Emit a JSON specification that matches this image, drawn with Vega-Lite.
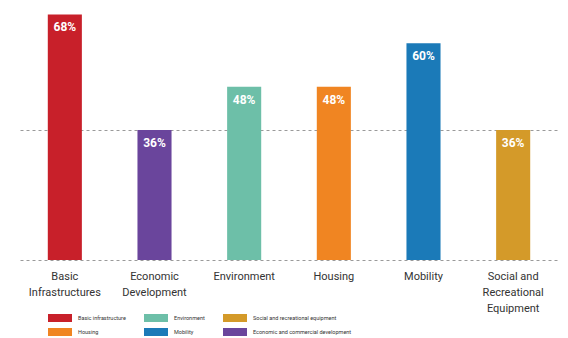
{
  "$schema": "https://vega.github.io/schema/vega-lite/v6.json",
  "width": 538,
  "height": 260,
  "autosize": {"type": "none"},
  "padding": {"left": 20, "top": 0, "right": 10, "bottom": 78},
  "background": "white",
  "config": {"view": {"stroke": null}, "font": "Roboto"},
  "data": {
    "values": [
      {"cat": "Basic|Infrastructures", "value": 68, "label": "68%", "legend": "Basic infrastructure"},
      {"cat": "Economic|Development", "value": 36, "label": "36%", "legend": "Economic and commercial development"},
      {"cat": "Environment", "value": 48, "label": "48%", "legend": "Environment"},
      {"cat": "Housing", "value": 48, "label": "48%", "legend": "Housing"},
      {"cat": "Mobility", "value": 60, "label": "60%", "legend": "Mobility"},
      {"cat": "Social and|Recreational|Equipment", "value": 36, "label": "36%", "legend": "Social and recreational equipment"}
    ]
  },
  "encoding": {
    "x": {
      "field": "cat", "type": "nominal", "sort": null, "title": null,
      "scale": {"paddingInner": 0.62, "paddingOuter": 0.31},
      "axis": {
        "domain": false, "ticks": false, "labelAngle": 0,
        "labelExpr": "split(datum.value, '|')",
        "labelFontSize": 11, "labelColor": "#333333", "labelPadding": 10,
        "labelLineHeight": 16, "labelBaseline": "top"
      }
    },
    "y": {
      "field": "value", "type": "quantitative", "title": null,
      "scale": {"domain": [0, 72], "nice": false},
      "axis": {
        "values": [0, 36], "labels": false, "ticks": false, "domain": false,
        "grid": true, "gridDash": [3, 3], "gridColor": "#9a9a9a", "gridWidth": 1
      }
    }
  },
  "layer": [
    {
      "mark": {"type": "bar"},
      "encoding": {
        "color": {
          "field": "legend", "type": "nominal", "title": null,
          "scale": {
            "domain": ["Basic infrastructure", "Housing", "Environment", "Mobility", "Social and recreational equipment", "Economic and commercial development"],
            "range": ["#C8202A", "#F08522", "#6DBFA8", "#1B7AB8", "#D49A29", "#6A459C"]
          },
          "legend": {
            "orient": "none", "legendX": 36, "legendY": 314,
            "columns": 3, "columnPadding": 18, "rowPadding": 6,
            "symbolType": "M-3,-1L3,-1L3,1L-3,1Z",
            "symbolSize": 64, "symbolStrokeWidth": 0, "symbolOpacity": 1,
            "labelFontSize": 5.5, "labelColor": "#333333", "labelOffset": 14,
            "labelLimit": 200
          }
        }
      }
    },
    {
      "mark": {"type": "text", "baseline": "middle", "dy": 13, "color": "white", "fontSize": 12, "fontWeight": "bold"},
      "encoding": {"text": {"field": "label"}}
    }
  ]
}
